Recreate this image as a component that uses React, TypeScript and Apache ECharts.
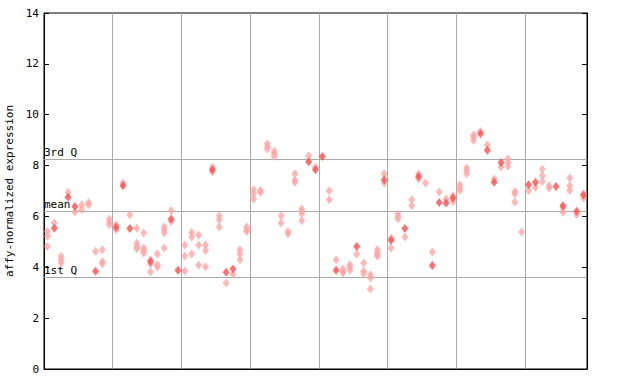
import React, { useEffect, useRef } from "react";
import * as echarts from "echarts";

// per-sample values (sample index 0..78), hatched (light) diamonds
const hatchedValues: number[][] = [
  [5.41, 5.22, 4.82], [5.74], [4.43, 4.3, 4.17], [6.94], [6.17], [6.46, 6.26], [6.55, 6.46], [4.63], [4.69, 4.23, 4.14], [5.9, 5.77, 5.67],
  [5.67, 5.48], [7.31], [6.07], [5.54, 4.95, 4.82, 4.73], [5.35, 4.76, 4.66, 4.56], [4.3, 4.13, 3.81], [4.52, 4.1, 4.01], [5.58, 5.48, 5.35, 4.76], [6.22, 5.8], [],
  [4.88, 4.44, 3.85], [5.37, 5.19, 4.52], [5.27, 4.88, 4.09], [4.88, 4.66, 4.02], [7.94, 7.76], [6.03, 5.87, 5.58], [3.38], [3.72], [4.69, 4.53, 4.3], [5.58, 5.48, 5.41],
  [7.05, 6.89, 6.69], [7.02, 6.94], [8.86, 8.75, 8.65], [8.56, 8.47, 8.36], [6.03, 5.74], [5.41, 5.31], [7.68, 7.42, 7.34], [6.29, 6.2, 6.11, 5.83], [8.39], [7.94],
  [], [7.01, 6.66], [4.3], [3.93, 3.84, 3.77], [4.1, 4.0, 3.88], [4.52], [4.17, 3.84, 3.75], [3.71, 3.58, 3.15], [4.69, 4.59, 4.49, 4.43], [7.68, 7.31],
  [5.15, 4.76], [6.1, 6.0, 5.91], [5.19], [6.66, 6.42], [7.67, 7.48], [7.31], [4.6], [6.96], [6.69], [6.81, 6.59],
  [7.25, 7.12, 7.02], [7.9, 7.8, 7.68], [9.21, 9.11, 8.99], [9.34], [8.82], [7.47], [7.94], [8.26, 8.12, 7.97], [6.98, 6.89, 6.57], [5.39],
  [7.02], [7.14], [7.86, 7.6, 7.37], [7.21, 7.12], [], [6.33, 6.16], [7.51, 7.21, 7.02], [6.08], [6.89, 6.72],
];

// per-sample solid diamonds (null = none)
const solidValues: (number | null)[] = [
  null, 5.54, null, 6.75, 6.39, null, null, 3.84, null, null,
  5.57, 7.21, 5.53, null, null, 4.23, null, null, 5.9, 3.88,
  null, null, null, null, 7.84, null, 3.8, 3.93, null, null,
  null, null, null, null, null, null, null, null, 8.15, 7.84,
  8.36, null, 3.88, null, null, 4.82, null, null, null, 7.44,
  5.06, null, 5.53, null, 7.57, null, 4.07, 6.55, 6.53, 6.72,
  null, null, null, 9.25, 8.6, 7.34, 8.12, null, null, null,
  7.25, 7.34, null, null, 7.18, 6.42, null, 6.2, 6.84,
];

const firstQ = 3.61;
const meanValue = 6.2;
const thirdQ = 8.24;
const groupSize = 10;
const sampleCount = 79;
const yMin = 0;
const yMax = 14;
const yStep = 2;

const FONT = "DejaVu Sans Mono";

export default function App() {
  const ref = useRef<HTMLDivElement>(null);
  useEffect(() => {
    if (!ref.current) return;
    const chart = echarts.init(ref.current, undefined, { renderer: "svg" });
    const hatched: number[][] = [];
    hatchedValues.forEach((vals, i) => vals.forEach((v) => hatched.push([i + 0.5, v])));
    const solid: number[][] = [];
    solidValues.forEach((v, i) => {
      if (v !== null) solid.push([i + 0.5, v]);
    });
    const lbl = (text: string) => ({
      show: true,
      formatter: text,
      position: "insideStartTop",
      distance: [0, 1],
      color: "#000",
      fontFamily: FONT,
      fontSize: 11,
      padding: 0,
    });
    chart.setOption({
      animation: false,
      grid: {
        left: 44,
        right: 53,
        top: 13,
        bottom: 15,
        outerBoundsMode: "none",
        containLabel: false,
        show: true,
        borderColor: "#000",
        borderWidth: 1,
        backgroundColor: "#fff",
      },
      xAxis: {
        type: "value",
        min: 0,
        max: sampleCount,
        interval: groupSize,
        axisLabel: { show: false },
        axisTick: { show: false },
        axisLine: { show: true, lineStyle: { color: "#000", width: 1 } },
        splitLine: { show: true, lineStyle: { color: "#aaaaaa", width: 1 } },
      },
      yAxis: [
        {
          type: "value",
          min: yMin,
          max: yMax,
          interval: yStep,
          name: "affy-normalized expression",
          nameLocation: "middle",
          nameRotate: 90,
          nameGap: 26,
          nameTextStyle: { fontFamily: FONT, fontSize: 11, color: "#000" },
          axisLine: { show: true, lineStyle: { color: "#000", width: 1 } },
          axisTick: { show: true, inside: true, length: 5, lineStyle: { color: "#000" } },
          axisLabel: { fontFamily: FONT, fontSize: 11, color: "#000", margin: 5 },
          splitLine: { show: false },
        },
        {
          type: "value",
          position: "right",
          min: yMin,
          max: yMax,
          interval: yStep,
          axisLine: { show: true, lineStyle: { color: "#000", width: 1 } },
          axisTick: { show: true, inside: true, length: 5, lineStyle: { color: "#000" } },
          axisLabel: { show: false },
          splitLine: { show: false },
        },
      ],
      series: [
        {
          type: "scatter",
          data: hatched,
          symbol: "diamond",
          symbolSize: [7, 9],
          itemStyle: { color: "#ffa6a6" },
          z: 3,
          markLine: {
            silent: true,
            symbol: "none",
            lineStyle: { color: "#aaaaaa", type: "solid", width: 1 },
            data: [
              { yAxis: firstQ, label: lbl("1st Q") },
              { yAxis: meanValue, label: lbl("mean") },
              { yAxis: thirdQ, label: lbl("3rd Q") },
            ],
            z: 1,
          },
        },
        {
          type: "scatter",
          data: solid,
          symbol: "diamond",
          symbolSize: [7, 9],
          itemStyle: { color: "#ff4d4d" },
          z: 4,
        },
      ],
    });
    return () => chart.dispose();
  }, []);
  return (
    <div
      ref={ref}
      style={{ position: "fixed", left: 0, top: 0, width: 640, height: 384, background: "#fff" }}
    />
  );
}
